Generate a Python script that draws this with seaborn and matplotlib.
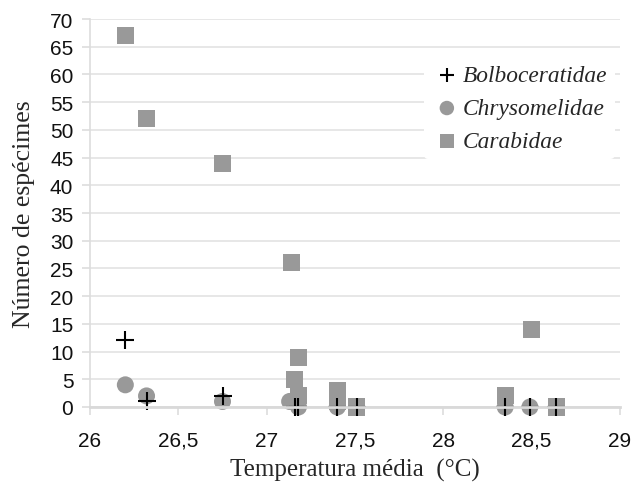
import matplotlib
matplotlib.use("Agg")
import matplotlib.pyplot as plt
import seaborn as sns
import pandas as pd

# Data
bolbo_x = [26.2, 26.32, 26.75, 27.16, 27.18, 27.40, 27.51, 28.35, 28.49, 28.64]
bolbo_y = [12, 1, 2, 0, 0, 0, 0, 0, 0, 0]
chryso_x = [26.2, 26.32, 26.75, 27.13, 27.18, 27.40, 28.35, 28.49]
chryso_y = [4, 2, 1, 1, 0, 0, 0, 0]
carab_x = [26.2, 26.32, 26.75, 27.14, 27.18, 27.16, 27.18, 27.40, 27.40, 27.51, 28.35, 28.50, 28.64]
carab_y = [67, 52, 44, 26, 9, 5, 2, 3, 1, 0, 2, 14, 0]
series_names = ["Bolboceratidae", "Chrysomelidae", "Carabidae"]
x_ticks = [26, 26.5, 27, 27.5, 28, 28.5, 29]
x_tick_labels = ["26", "26,5", "27", "27,5", "28", "28,5", "29"]
y_ticks = list(range(0, 75, 5))

sns.set_style("white")

fig = plt.figure(figsize=(6.34, 4.85), dpi=100)
ax = fig.add_axes([90 / 634, 1 - 408 / 485, 530 / 634, 388 / 485])

gray = "#999999"
df_car = pd.DataFrame({"x": carab_x, "y": carab_y})
df_chr = pd.DataFrame({"x": chryso_x, "y": chryso_y})
df_bol = pd.DataFrame({"x": bolbo_x, "y": bolbo_y})

sns.scatterplot(data=df_car, x="x", y="y", marker="s", s=150, color=gray,
                edgecolor="none", ax=ax, zorder=3, clip_on=False, label=series_names[2])
sns.scatterplot(data=df_chr, x="x", y="y", marker="o", s=150, color=gray,
                edgecolor="none", ax=ax, zorder=4, clip_on=False, label=series_names[1])
sns.scatterplot(data=df_bol, x="x", y="y", marker="+", s=150, color="black",
                linewidth=1.5, ax=ax, zorder=5, clip_on=False, label=series_names[0])

ax.set_xlim(26, 29)
ax.set_ylim(0, 70)
ax.set_xticks(x_ticks)
ax.set_xticklabels(x_tick_labels)
ax.set_yticks(y_ticks)

ax.grid(axis="y", color="#e3e3e3", linewidth=1.2)
ax.set_axisbelow(True)
for s in ["top", "right"]:
    ax.spines[s].set_visible(False)
ax.spines["left"].set_color("#dddddd")
ax.spines["bottom"].set_color("#d9d9d9")
ax.spines["left"].set_linewidth(1.2)
ax.spines["bottom"].set_linewidth(2.0)
ax.spines["bottom"].set_zorder(10)

ax.tick_params(axis="x", which="both", direction="out", length=6, color="#dddddd",
               width=1.2, pad=11, bottom=True)
ax.tick_params(axis="y", which="both", direction="out", length=6, color="#dddddd",
               width=1.2, pad=6, left=True)
for lab in ax.get_xticklabels() + ax.get_yticklabels():
    lab.set_fontfamily("Liberation Sans")
    lab.set_fontsize(15)
    lab.set_color("#111111")

ax.set_xlabel("Temperatura média  (°C)", fontfamily="Liberation Serif", fontsize=18,
              labelpad=6)
ax.set_ylabel("Número de espécimes", fontfamily="Liberation Serif", fontsize=18.5,
              labelpad=11)

handles, labels = ax.get_legend_handles_labels()
order = [labels.index(n) for n in series_names]
leg = ax.legend([handles[i] for i in order], [labels[i] for i in order],
                loc="upper right", bbox_to_anchor=(1.012, 0.93), frameon=True,
                facecolor="white", edgecolor="none", framealpha=1,
                prop={"family": "Liberation Serif", "style": "italic", "size": 16.8},
                handletextpad=0.0, labelspacing=0.5, borderpad=0.3, markerscale=0.85,
                handlelength=1.4)

fig.savefig("out.png", dpi=100)
